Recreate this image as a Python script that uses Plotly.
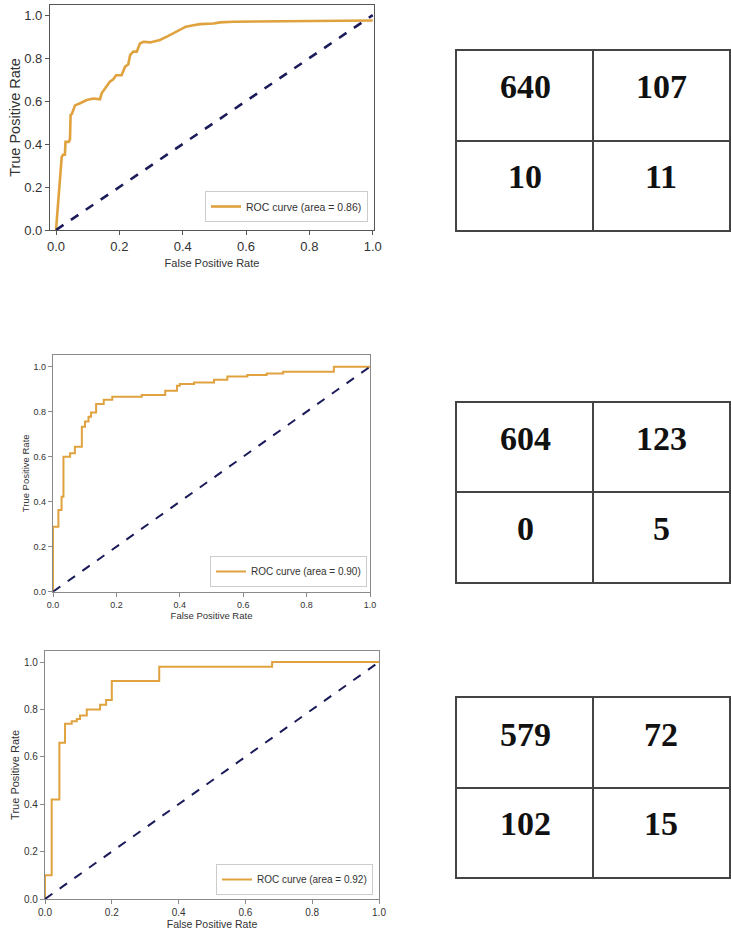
import plotly.graph_objects as go

# ---------------- data ----------------
fpr1 = [0.0, 0.018, 0.022, 0.028, 0.030, 0.040, 0.044, 0.046, 0.050, 0.055, 0.060, 0.076, 0.097,
        0.118, 0.139, 0.144, 0.155, 0.170, 0.180, 0.190, 0.207, 0.218, 0.228, 0.234, 0.244, 0.255,
        0.265, 0.276, 0.297, 0.328, 0.350, 0.370, 0.390, 0.410, 0.434, 0.455, 0.497, 0.518, 0.560, 1.0]
tpr1 = [0.0, 0.340, 0.350, 0.350, 0.410, 0.410, 0.420, 0.535, 0.540, 0.566, 0.580, 0.590, 0.605,
        0.612, 0.608, 0.636, 0.660, 0.690, 0.700, 0.720, 0.720, 0.760, 0.770, 0.814, 0.830, 0.830,
        0.868, 0.876, 0.873, 0.884, 0.900, 0.915, 0.930, 0.946, 0.953, 0.958, 0.961, 0.966, 0.969, 0.975]

fpr2 = [0.0, 0.0, 0.006, 0.006, 0.017, 0.017, 0.027, 0.027, 0.033, 0.033, 0.054, 0.054, 0.069, 0.069,
        0.091, 0.091, 0.101, 0.101, 0.112, 0.112, 0.120, 0.120, 0.136, 0.136, 0.160, 0.160, 0.187,
        0.187, 0.280, 0.280, 0.354, 0.354, 0.391, 0.391, 0.400, 0.400, 0.445, 0.445, 0.508, 0.508,
        0.550, 0.550, 0.613, 0.613, 0.674, 0.674, 0.726, 0.726, 0.886, 0.886, 1.0]
tpr2 = [0.0, 0.289, 0.289, 0.289, 0.289, 0.363, 0.363, 0.422, 0.422, 0.600, 0.600, 0.615, 0.615, 0.644,
        0.644, 0.733, 0.733, 0.756, 0.756, 0.778, 0.778, 0.797, 0.797, 0.834, 0.834, 0.853, 0.853,
        0.866, 0.866, 0.874, 0.874, 0.893, 0.893, 0.915, 0.915, 0.923, 0.923, 0.930, 0.930, 0.942,
        0.942, 0.957, 0.957, 0.963, 0.963, 0.970, 0.970, 0.978, 0.978, 1.0, 1.0]

fpr3 = [0.0, 0.0, 0.020, 0.020, 0.043, 0.043, 0.060, 0.060, 0.080, 0.080, 0.095, 0.095, 0.105, 0.105,
        0.125, 0.125, 0.165, 0.165, 0.183, 0.183, 0.200, 0.200, 0.342, 0.342, 0.680, 0.680, 1.0]
tpr3 = [0.0, 0.100, 0.100, 0.420, 0.420, 0.660, 0.660, 0.740, 0.740, 0.750, 0.750, 0.760, 0.760, 0.775,
        0.775, 0.800, 0.800, 0.820, 0.820, 0.840, 0.840, 0.920, 0.920, 0.980, 0.980, 1.0, 1.0]

diag = [0.0, 1.0]
auc_labels = ["ROC curve (area = 0.86)", "ROC curve (area = 0.90)", "ROC curve (area = 0.92)"]

cm1 = [[640, 107], [10, 11]]
cm2 = [[604, 123], [0, 5]]
cm3 = [[579, 72], [102, 15]]

tick_vals = [0.0, 0.2, 0.4, 0.6, 0.8, 1.0]
tick_text = ["0.0", "0.2", "0.4", "0.6", "0.8", "1.0"]

# ---------------- figure ----------------
W, H = 731, 931
ORANGE = "#DFA23E"
NAVY = "#1b1b5a"
SANS = "Liberation Sans, Arial, sans-serif"
SERIF = "Liberation Serif, Times New Roman, serif"


def px_x(a, b):
    return [a / W, b / W]


def px_y(top, bottom):
    return [1 - bottom / H, 1 - top / H]


fig = go.Figure()

rocs = [
    dict(fpr=fpr1, tpr=tpr1, ax="x", ay="y", leg="legend", width=2.6, label=auc_labels[0]),
    dict(fpr=fpr2, tpr=tpr2, ax="x2", ay="y2", leg="legend2", width=2.0, label=auc_labels[1]),
    dict(fpr=fpr3, tpr=tpr3, ax="x3", ay="y3", leg="legend3", width=2.0, label=auc_labels[2]),
]
for r in rocs:
    fig.add_trace(go.Scatter(x=r["fpr"], y=r["tpr"], mode="lines", xaxis=r["ax"], yaxis=r["ay"],
                             line=dict(color=ORANGE, width=r["width"]), name=r["label"],
                             legend=r["leg"], showlegend=True, hoverinfo="skip"))
    fig.add_trace(go.Scatter(x=diag, y=diag, mode="lines", xaxis=r["ax"], yaxis=r["ay"],
                             line=dict(color=NAVY, width=r["width"], dash="dash"),
                             showlegend=False, hoverinfo="skip"))

# confusion matrix tables drawn on their own axes
cms = [(cm1, "x4", "y4"), (cm2, "x5", "y5"), (cm3, "x6", "y6")]
annotations = []
for cm, ax, ay in cms:
    for i, row in enumerate(cm):
        for j, v in enumerate(row):
            annotations.append(dict(x=j + 0.5, y=1.5 - i, xref=ax, yref=ay, text=str(v),
                                    showarrow=False, yshift=9,
                                    font=dict(family=SERIF, size=34, color="#111111", weight="bold")))


def roc_axes(domx, domy, yr, xr, tickfont, framecolor, title_font_x, title_font_y, sx, sy):
    xa = dict(domain=domx, range=xr, tickvals=tick_vals, ticktext=tick_text, showgrid=False,
              zeroline=False, showline=True, mirror=True, linecolor=framecolor, linewidth=1.2,
              ticks="outside", ticklen=4, tickcolor=framecolor, automargin=False,
              tickfont=dict(family=SANS, size=tickfont, color="#333333"),
              title=dict(text="False Positive Rate", standoff=sx,
                         font=dict(family=SANS, size=title_font_x, color="#333333")))
    ya = dict(domain=domy, range=yr, tickvals=tick_vals, ticktext=tick_text, showgrid=False,
              zeroline=False, showline=True, mirror=True, linecolor=framecolor, linewidth=1.2,
              ticks="outside", ticklen=4, tickcolor=framecolor, automargin=False,
              tickfont=dict(family=SANS, size=tickfont, color="#333333"),
              title=dict(text="True Positive Rate", standoff=sy,
                         font=dict(family=SANS, size=title_font_y, color="#333333")))
    return xa, ya


xa1, ya1 = roc_axes(px_x(50, 374), px_y(5, 230), [0, 1.047], [-0.019, 1.004], 13, "#555555", 11, 14.5, 6, 0)
xa2, ya2 = roc_axes(px_x(53, 370), px_y(355, 591.7), [0, 1.052], [0, 1.0], 9, "#8a8a8a", 9.5, 9.5, 1, 2)
xa3, ya3 = roc_axes(px_x(45, 379), px_y(650.7, 899), [0, 1.048], [0, 1.0], 10, "#8a8a8a", 10.5, 11, 2, 2)

xa2["anchor"] = "y2"; ya2["anchor"] = "x2"
xa3["anchor"] = "y3"; ya3["anchor"] = "x3"
xa1["anchor"] = "y"; ya1["anchor"] = "x"


def table_axes(domx, domy, anchor_other):
    common = dict(range=[0, 2], tickvals=[1], showticklabels=False, ticks="", showgrid=True,
                  gridcolor="#444444", gridwidth=1.8, zeroline=False, showline=True, mirror=True,
                  linecolor="#444444", linewidth=1.8, fixedrange=True, automargin=False)
    xa = dict(domain=domx, anchor=anchor_other[0], **common)
    ya = dict(domain=domy, anchor=anchor_other[1], **common)
    return xa, ya


tx = px_x(457, 729)
xa4, ya4 = table_axes(tx, px_y(51, 230), ("y4", "x4"))
xa5, ya5 = table_axes(tx, px_y(403, 581.7), ("y5", "x5"))
xa6, ya6 = table_axes(tx, px_y(698.3, 877.3), ("y6", "x6"))

# invisible traces so the table axes render
for ax, ay in [("x4", "y4"), ("x5", "y5"), ("x6", "y6")]:
    fig.add_trace(go.Scatter(x=[0, 2], y=[0, 2], mode="markers", xaxis=ax, yaxis=ay,
                             marker=dict(opacity=0), showlegend=False, hoverinfo="skip"))


def legend_at(right, bottom, size):
    return dict(x=right / W, y=1 - bottom / H, xanchor="right", yanchor="bottom",
                bgcolor="rgba(255,255,255,0.9)", bordercolor="#cccccc", borderwidth=1,
                font=dict(family=SANS, size=size, color="#333333"),
                itemwidth=30, tracegroupgap=0)


fig.update_layout(
    width=W, height=H,
    margin=dict(l=0, r=0, t=0, b=0, pad=0),
    paper_bgcolor="white", plot_bgcolor="white",
    xaxis=xa1, yaxis=ya1, xaxis2=xa2, yaxis2=ya2, xaxis3=xa3, yaxis3=ya3,
    xaxis4=xa4, yaxis4=ya4, xaxis5=xa5, yaxis5=ya5, xaxis6=xa6, yaxis6=ya6,
    legend=legend_at(368, 222, 10.5),
    legend2=legend_at(367, 587, 10),
    legend3=legend_at(373, 895, 10),
    annotations=annotations,
    showlegend=True,
)

fig.write_html("out.html", config={"displayModeBar": False},
               post_script="document.body.style.margin='0';document.body.style.overflow='hidden';")
